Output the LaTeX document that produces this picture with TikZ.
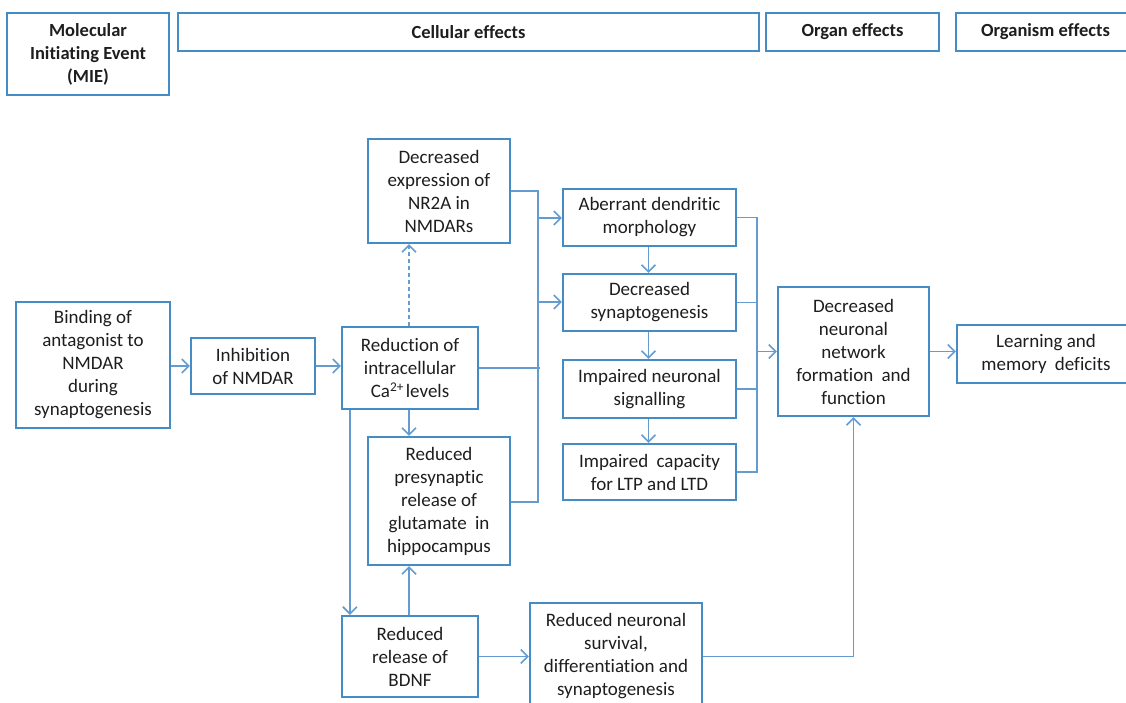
\documentclass[tikz,border=0pt]{standalone}
\usepackage{fontspec}
\setmainfont{Carlito}[Ligatures=NoCommon]
\usetikzlibrary{arrows.meta,calc}
\definecolor{boxblue}{RGB}{70,140,196}
\definecolor{linkblue}{RGB}{100,156,210}
\definecolor{txt}{RGB}{30,30,30}
\begin{document}
\begin{tikzpicture}[x=1pt,y=-1pt,
  box/.style={draw=boxblue,line width=2.2pt,fill=white,inner sep=2pt,align=center,
    text=txt,font=\fontsize{19}{23}\selectfont},
  head/.style={box,font=\fontsize{18.5}{23}\selectfont\bfseries},
  link/.style={draw=linkblue,line width=1.8pt},
  arr/.style={link,-{Straight Barb[length=7pt,width=14pt,line width=1.6pt]}}
]
\useasboundingbox (0,0) rectangle (1126,702);
% headers
\node[head,minimum width=162pt,minimum height=82pt] (mie) at (88,54) {Molecular\\Initiating Event\\(MIE)};
\node[head,minimum width=581pt,minimum height=38pt] (cell) at (468.5,32) {Cellular effects};
\node[head,minimum width=173pt,minimum height=38pt] (organ) at (852.5,32) {Organ effects};
\node[head,minimum width=179pt,minimum height=38pt] (orgm) at (1045.5,32) {Organism effects};
% main boxes
\node[box,minimum width=154pt,minimum height=126pt] (bind) at (93,365) {Binding of\\antagonist to\\NMDAR\\during\\synaptogenesis};
\node[box,minimum width=124pt,minimum height=56pt] (inhib) at (253,366) {Inhibition\\of NMDAR};
\node[box,minimum width=136pt,minimum height=82pt] (red) at (410,368) {Reduction of\\intracellular\\Ca\textsuperscript{2+}\kern2pt levels};
\node[box,minimum width=142pt,minimum height=104pt] (nr2a) at (439,191) {Decreased\\expression of\\NR2A in\\NMDARs};
\node[box,minimum width=142pt,minimum height=128pt] (pre) at (439,501) {Reduced\\presynaptic\\release of\\glutamate\kern4pt\ in\\hippocampus};
\node[box,minimum width=136pt,minimum height=81pt] (bdnf) at (410,656.5) {Reduced\\release of\\BDNF};
\node[box,minimum width=172pt,minimum height=107pt] (surv) at (616,656.5) {Reduced neuronal\\survival,\\differentiation and\\synaptogenesis};
\node[box,minimum width=173pt,minimum height=57pt] (aber) at (649.5,217.5) {Aberrant dendritic\\morphology};
\node[box,minimum width=173pt,minimum height=57pt] (syn) at (649.5,302.5) {Decreased\\synaptogenesis};
\node[box,minimum width=173pt,minimum height=58pt] (sig) at (649.5,389) {Impaired neuronal\\signalling};
\node[box,minimum width=173pt,minimum height=56pt] (ltp) at (649.5,472) {Impaired\kern4pt\ capacity\\for LTP and LTD};
\node[box,minimum width=151pt,minimum height=129pt] (net) at (853.5,351.5) {Decreased\\neuronal\\network\\formation\kern4pt\ and\\function};
\node[box,minimum width=178pt,minimum height=58pt] (learn) at (1046,354) {Learning and\\memory\kern4pt\ deficits};
% bus coordinates
\coordinate (b1top) at (538,191);
\coordinate (b1bot) at (538,502);
\coordinate (b2top) at (757,217.5);
\coordinate (b2bot) at (757,472);
% connectors
\draw[arr] (bind.east |- inhib.west) -- (inhib.west);
\draw[arr] (inhib.east) -- (inhib.east -| red.west);
\draw[arr,dash pattern=on 4pt off 3pt] ([xshift=-1pt]red.north) -- ([xshift=-1pt]red.north |- nr2a.south);
\draw[arr] ([xshift=-1pt]red.south) -- ([xshift=-1pt]red.south |- pre.north);
\draw[arr] ([xshift=9pt]red.south west) -- ([xshift=9pt]bdnf.north west);
\draw[arr] ([xshift=-1pt]bdnf.north) -- ([xshift=-1pt]bdnf.north |- pre.south);
\draw[arr] (bdnf.east |- surv.west) -- (surv.west);
\draw[arr] (surv.east) -| (net.south);
% bus 1
\draw[link] (nr2a.east) -- (b1top) -- (b1bot) -- (b1bot -| pre.east);
\draw[link] (red.east) -- ($(red.east -| b1top)+(2,0)$);
\draw[arr] (b1top |- 0,218) -- (aber.west |- 0,218);
\draw[arr] (b1top |- 0,302) -- (syn.west |- 0,302);
% column arrows
\draw[arr] ([xshift=-1pt]aber.south) -- ([xshift=-1pt]syn.north);
\draw[arr] ([xshift=-1pt]syn.south) -- ([xshift=-1pt]sig.north);
\draw[arr] ([xshift=-1pt]sig.south) -- ([xshift=-1pt]ltp.north);
% bus 2
\draw[link] (aber.east) -- (b2top) -- (b2bot) -- (ltp.east);
\draw[link] (syn.east) -- (syn.east -| b2top);
\draw[link] (sig.east) -- (sig.east -| b2top);
\draw[arr] (b2top |- net.west) -- (net.west);
\draw[arr] (net.east) -- (net.east -| learn.west);
\end{tikzpicture}
\end{document}
